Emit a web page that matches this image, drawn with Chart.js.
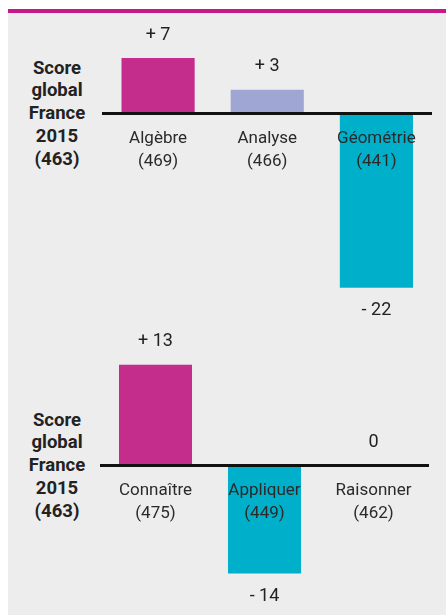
<!DOCTYPE html>
<html>
<head>
<meta charset="utf-8">
<script src="https://cdn.jsdelivr.net/npm/chart.js@4/dist/chart.umd.min.js"></script>
<style>
  body { margin: 0; background: #fff; width: 446px; height: 615px; position: relative; overflow: hidden; font-family: Roboto, sans-serif; }
  .panel { position: absolute; left: 8px; top: 9px; width: 438px; height: 606px; background: #ededed; border-top: 4.5px solid #c8188a; box-sizing: border-box; }
  canvas { position: absolute; left: 0; }
  .side { position: absolute; left: 10px; width: 94px; text-align: center; font-weight: bold; font-size: 18.5px; line-height: 22.75px; color: #222; }
</style>
</head>
<body>
<div class="panel"></div>
<div class="side" style="top:56.5px">Score<br>global<br>France<br>2015<br>(463)</div>
<div class="side" style="top:408.5px">Score<br>global<br>France<br>2015<br>(463)</div>
<canvas id="chartTop" width="446" height="320" style="top:0"></canvas>
<canvas id="chartBottom" width="446" height="295" style="top:320px"></canvas>

<script>
/* =============================
   DATA
============================= */

const topLabels = [["Algèbre", "(469)"], ["Analyse", "(466)"], ["Géométrie", "(441)"]];
const topValues = [7, 3, -22];
const topColors = ["#c42d8b", "#a0a6d4", "#00b0cb"];

const bottomLabels = [["Connaître", "(475)"], ["Appliquer", "(449)"], ["Raisonner", "(462)"]];
const bottomValues = [13, -14, 0];
const bottomColors = ["#c42d8b", "#00b0cb", "#a0a6d4"];

/* =============================
   VALUE LABELS PLUGIN
============================= */

const valueLabels = {
    id: "valueLabels",
    afterDatasetsDraw(chart) {
        const ctx = chart.ctx;
        const values = chart.data.datasets[0].data;
        const meta = chart.getDatasetMeta(0);
        ctx.save();
        ctx.font = "18px Roboto";
        ctx.fillStyle = "#222";
        ctx.textAlign = "center";
        ctx.textBaseline = "middle";
        meta.data.forEach((bar, i) => {
            const v = values[i];
            const text = v > 0 ? "+ " + v : v < 0 ? "- " + (-v) : "0";
            const y = v >= 0 ? bar.y - 23 : bar.y + 23;
            ctx.fillText(text, bar.x, y);
        });
        ctx.restore();
    }
};

/* =============================
   CHART BUILDER
============================= */

function makeChart(canvasId, labels, values, colors, yMin, yMax, padding) {
    return new Chart(document.getElementById(canvasId), {
        type: "bar",
        data: {
            labels: labels,
            datasets: [{
                data: values,
                backgroundColor: colors,
                borderWidth: 0,
                categoryPercentage: 1,
                barPercentage: 0.67
            }]
        },
        options: {
            responsive: false,
            animation: false,
            devicePixelRatio: 1,
            layout: { padding: padding },
            plugins: { legend: { display: false }, tooltip: { enabled: false } },
            scales: {
                y: { display: false, min: yMin, max: yMax },
                x: {
                    position: { y: 0 },
                    offset: true,
                    grid: { display: false, drawTicks: false },
                    border: { display: true, color: "#111", width: 3, z: 1 },
                    ticks: {
                        z: 1,
                        color: "#2a2a2a",
                        padding: 14,
                        maxRotation: 0,
                        autoSkip: false,
                        font: { family: "Roboto", size: 17, lineHeight: 22.75 / 17 }
                    }
                }
            }
        },
        plugins: [valueLabels]
    });
}

makeChart("chartTop", topLabels, topValues, topColors, -25, 12,
    { left: 103.5, right: 15, top: 18.5, bottom: 8.5 });

makeChart("chartBottom", bottomLabels, bottomValues, bottomColors, -18, 17,
    { left: 101, right: 18, top: 13.8, bottom: 10.7 });
</script>
</body>
</html>
